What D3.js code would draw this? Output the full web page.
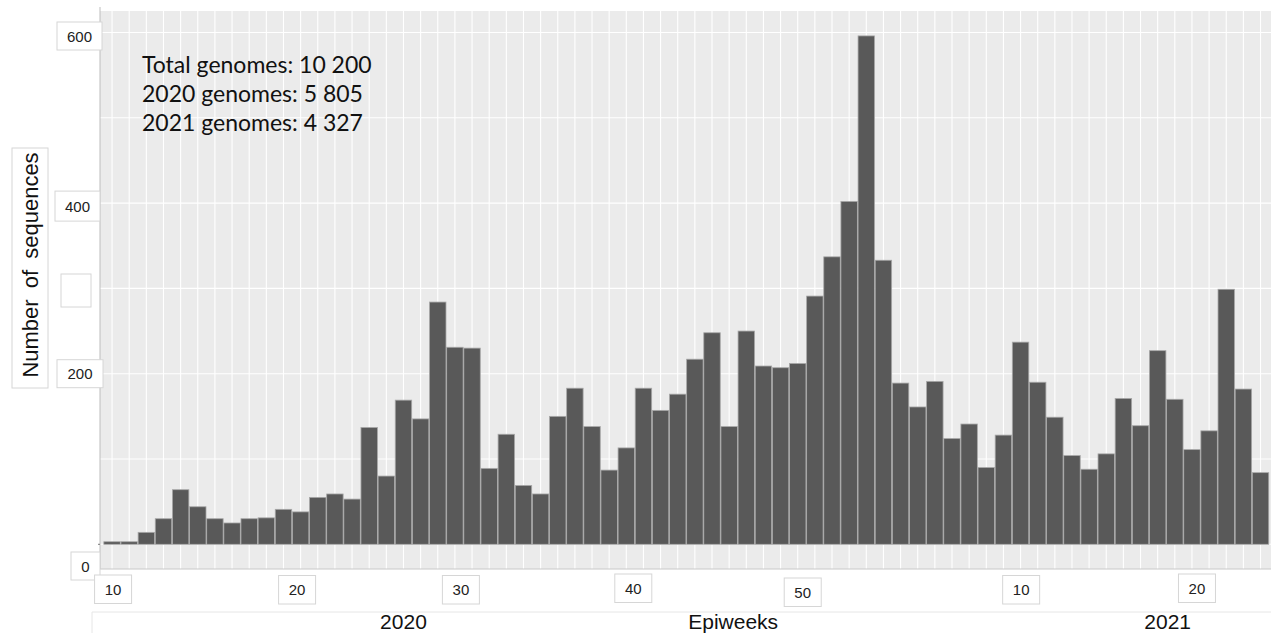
<!DOCTYPE html>
<html>
<head>
<meta charset="utf-8">
<script src="https://cdn.jsdelivr.net/npm/d3@7"></script>
<style>
  html, body { margin: 0; padding: 0; background: #ffffff; }
  svg { display: block; }
</style>
</head>
<body>
<svg id="chart" width="1271" height="633"></svg>
<script>
// ---- data ----
const epiweeks = [
  10,11,12,13,14,15,16,17,18,19,20,21,22,23,24,25,26,27,28,29,30,31,32,33,34,35,36,37,38,39,40,41,42,43,44,45,46,47,48,49,50,51,52,53,
  1,2,3,4,5,6,7,8,9,10,11,12,13,14,15,16,17,18,19,20,21,22,23,24
];
const years = [
  2020,2020,2020,2020,2020,2020,2020,2020,2020,2020,2020,2020,2020,2020,2020,2020,2020,2020,2020,2020,2020,2020,
  2020,2020,2020,2020,2020,2020,2020,2020,2020,2020,2020,2020,2020,2020,2020,2020,2020,2020,2020,2020,2020,2020,
  2021,2021,2021,2021,2021,2021,2021,2021,2021,2021,2021,2021,2021,2021,2021,2021,2021,2021,2021,2021,2021,2021,2021,2021
];
const sequences = [
  3,3,14,30,64,44,30,25,30,31,41,38,55,59,53,137,80,169,147,284,231,230,89,129,69,59,150,183,138,87,
  113,183,157,176,217,248,138,250,209,207,212,291,337,402,
  596,333,189,161,191,124,141,90,128,237,190,149,104,88,106,171,139,227,170,111,133,299,182,84
];
const yTicks = [0, 200, 400, 600];
const yGrid = [0, 100, 200, 300, 400, 500, 600];
const xTickWeeks = [10, 20, 30, 40, 50, 10, 20];
const xTickYears = [2020, 2020, 2020, 2020, 2020, 2021, 2021];
const annotation = ["Total genomes: 10 200", "2020 genomes: 5 805", "2021 genomes: 4 327"];
const yearLabels = ["2020", "2021"];
const yearLabelWeeks = ["2020-27", "2021-18"];
const xTitle = "Epiweeks";
const yTitle = "Number of sequences";

// ---- layout ----
const svg = d3.select("#chart");
const panel = { left: 100, right: 1271, top: 11, bottom: 569 };
const cats = epiweeks.map((w, i) => years[i] + "-" + w);

const x = d3.scaleBand().domain(cats).range([103.5, 1269.1]).paddingInner(0.04).paddingOuter(0.02);
const y = d3.scaleLinear().domain([0, 600]).range([544.3, 32.5]);
const xc = c => x(c) + x.bandwidth() / 2;

// panel background
svg.append("rect").attr("x", panel.left).attr("y", panel.top)
  .attr("width", panel.right - panel.left).attr("height", panel.bottom - panel.top)
  .attr("fill", "#ebebeb");

// gridlines
svg.append("g").selectAll("line").data(yGrid).join("line")
  .attr("x1", panel.left).attr("x2", panel.right)
  .attr("y1", d => y(d)).attr("y2", d => y(d))
  .attr("stroke", "#ffffff").attr("stroke-width", 1.1);
svg.append("g").selectAll("line").data(cats).join("line")
  .attr("x1", d => xc(d)).attr("x2", d => xc(d))
  .attr("y1", panel.top).attr("y2", panel.bottom)
  .attr("stroke", "#ffffff").attr("stroke-width", 1.1);

// bars
svg.append("g").selectAll("rect").data(sequences).join("rect")
  .attr("x", (d, i) => x(cats[i]))
  .attr("width", x.bandwidth())
  .attr("y", d => y(d))
  .attr("height", d => y(0) - y(d))
  .attr("fill", "#595959")
  .attr("stroke", "#a8a8a8").attr("stroke-width", 0.8);

// axis lines
svg.append("line").attr("x1", panel.left).attr("x2", panel.left).attr("y1", 7).attr("y2", panel.bottom)
  .attr("stroke", "#bdbdbd").attr("stroke-width", 1);
svg.append("line").attr("x1", panel.left).attr("x2", panel.right).attr("y1", panel.bottom).attr("y2", panel.bottom)
  .attr("stroke", "#c8c8c8").attr("stroke-width", 1);

// y ticks (tiny)
svg.append("g").selectAll("line").data(yTicks).join("line")
  .attr("x1", panel.left - 2).attr("x2", panel.left)
  .attr("y1", d => y(d)).attr("y2", d => y(d))
  .attr("stroke", "#777").attr("stroke-width", 1);

// label boxes style
const boxStroke = "#d6d6d6";
const labelFont = "'Liberation Sans', Arial, sans-serif";

// y tick label boxes (box geometry relative to tick position)
const yBox = [
  { dx: -29, dy: 7.7, w: 29, h: 28 },    // 0
  { dx: -43, dy: -14, w: 46, h: 28 },    // 200
  { dx: -45, dy: -12, w: 45, h: 30 },    // 400
  { dx: -43, dy: -10.5, w: 45, h: 28 }   // 600
];
const yLab = svg.append("g");
yTicks.forEach((t, i) => {
  const b = yBox[i];
  const bx = panel.left + b.dx, by = y(t) + b.dy;
  yLab.append("rect").attr("x", bx).attr("y", by).attr("width", b.w).attr("height", b.h)
    .attr("fill", "#fff").attr("stroke", boxStroke).attr("stroke-width", 1);
  yLab.append("text").attr("x", bx + b.w / 2).attr("y", by + b.h / 2 + 5.5)
    .attr("text-anchor", "middle").attr("font-family", labelFont).attr("font-size", 15)
    .attr("fill", "#222").text(t);
});
// empty box
yLab.append("rect").attr("x", 61).attr("y", 274).attr("width", 30).attr("height", 33)
  .attr("fill", "#fff").attr("stroke", boxStroke);

// y title box + text
svg.append("rect").attr("x", 12).attr("y", 148).attr("width", 36).attr("height", 240)
  .attr("fill", "#fff").attr("stroke", boxStroke);
svg.append("text").attr("transform", "translate(38,265) rotate(-90)")
  .attr("text-anchor", "middle").attr("font-family", labelFont).attr("font-size", 22)
  .attr("word-spacing", 5).attr("fill", "#111").text(yTitle);

// x tick label boxes
const xBoxOff = [1, 13.6, 6, 7, 5, 0.6, 5];
const xBoxTop = [575, 575.5, 575.5, 574, 578, 575.5, 574];
const xLab = svg.append("g");
xTickWeeks.forEach((w, i) => {
  const c = xTickYears[i] + "-" + w;
  const cx = xc(c) + xBoxOff[i];
  const by = xBoxTop[i];
  xLab.append("rect").attr("x", cx - 18.5).attr("y", by).attr("width", 37).attr("height", 28.5)
    .attr("fill", "#fff").attr("stroke", boxStroke);
  xLab.append("text").attr("x", cx).attr("y", by + 19.5)
    .attr("text-anchor", "middle").attr("font-family", labelFont).attr("font-size", 15)
    .attr("fill", "#222").text(w);
});

// bottom box
svg.append("path").attr("d", "M92,640 L92,612 L1271,612")
  .attr("fill", "none").attr("stroke", "#e6e6e6");

// bottom labels
const yearOff = [0, 10];
yearLabels.forEach((t, i) => {
  svg.append("text").attr("x", xc(yearLabelWeeks[i]) + yearOff[i]).attr("y", 629)
    .attr("text-anchor", "middle").attr("font-family", labelFont).attr("font-size", 21)
    .attr("fill", "#111").text(t);
});
svg.append("text").attr("x", xc("2020-46") + 4).attr("y", 629)
  .attr("text-anchor", "middle").attr("font-family", labelFont).attr("font-size", 21)
  .attr("fill", "#111").text(xTitle);

// annotation
svg.append("g").selectAll("text").data(annotation).join("text")
  .attr("x", 142).attr("y", (d, i) => 73 + i * 29)
  .attr("font-family", "Lato, 'Open Sans', sans-serif").attr("font-size", 23)
  .attr("fill", "#111").text(d => d);
</script>
</body>
</html>
